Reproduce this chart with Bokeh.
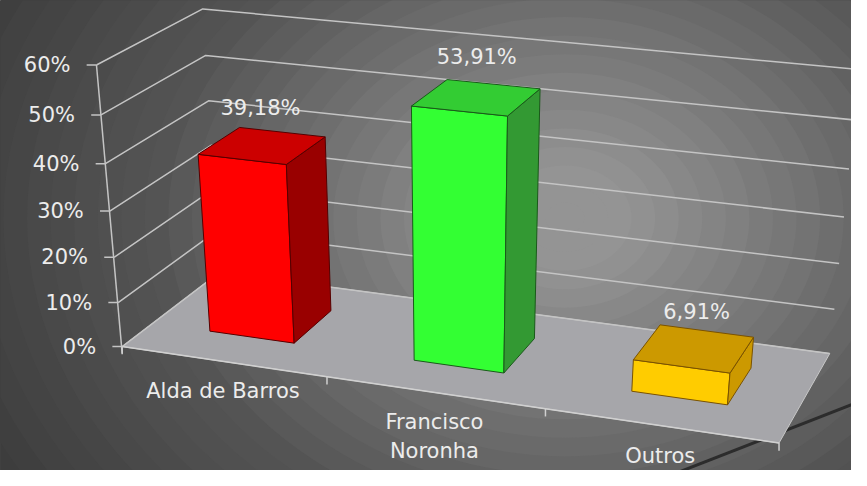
import numpy as np
from bokeh.plotting import figure
from bokeh.models import Range1d, ColumnDataSource
from bokeh.core.properties import value
from bokeh.embed import file_html
from bokeh.resources import INLINE

# ---------------- data ----------------
categories = ["Alda de Barros", "Francisco\nNoronha", "Outros"]
values = [39.18, 53.91, 6.91]
y_ticks = [0, 10, 20, 30, 40, 50, 60]
y_tick_labels = ["0%", "10%", "20%", "30%", "40%", "50%", "60%"]
Y_MAX = 60

# ---------------- styles ----------------
face_colors = ["#ff0000", "#33ff33", "#ffcc00"]
side_colors = ["#990000", "#339933", "#cc9900"]
top_colors = ["#cc0000", "#33cc33", "#cc9900"]
edge_colors = ["#550000", "#1a5a1a", "#7a5200"]
TEXT_COLOR = "#ececec"
FONT = "DejaVu Sans"
FONT_SIZE = "21px"
BAR_W = 0.42      # fraction of category width
BAR_D0, BAR_D1 = 0.30, 0.72   # depth span of the bars
LABEL_LIFT = 8.0  # value-label lift above bar top (in % units)

# ---------------- camera (3D frame -> reference-frame pixels) ----------------
# 3D frame: X = category position (0..n), D = depth (0 front .. 1 back), Z = value / Y_MAX
CAM_3D = [(0, 0, 0), (1, 0, 0), (2, 0, 0), (3, 0, 0), (3, 1, 0), (0, 1, 0),
          (0, 0, 1), (0, 0, 0.5), (0, 1, 1), (0, 1, 2 / 3), (3, 1, 1)]
CAM_2D = [(125, 355), (333, 392), (555, 425), (793, 455), (845, 365), (222, 281),
          (97, 67), (111, 217), (207, 9), (212, 104), (875, 71)]


def fit_projection(p3, p2):
    rows = []
    for (X, D, Z), (u, v) in zip(p3, p2):
        u, v = u / 100.0, v / 100.0
        rows.append([X, D, Z, 1, 0, 0, 0, 0, -u * X, -u * D, -u * Z, -u])
        rows.append([0, 0, 0, 0, X, D, Z, 1, -v * X, -v * D, -v * Z, -v])
    _, _, vt = np.linalg.svd(np.array(rows, float))
    return vt[-1].reshape(3, 4)


P = fit_projection(CAM_3D, CAM_2D)


def proj(X, D, Zval):
    X = np.atleast_1d(np.asarray(X, float))
    D = np.broadcast_to(np.asarray(D, float), X.shape)
    Z = np.broadcast_to(np.asarray(Zval, float) / Y_MAX, X.shape)
    h = P @ np.vstack([X, D, Z, np.ones_like(X)])
    return list(100 * h[0] / h[2]), list(100 * h[1] / h[2])


n = len(categories)

# ---------------- figure ----------------
REF_W, REF_H = 867, 486
W, H = 851, 470
p = figure(width=W, height=H, output_backend="svg", toolbar_location=None,
           x_range=Range1d(0, REF_W), y_range=Range1d(REF_H, 0), min_border=0)
p.axis.visible = False
p.grid.visible = False
p.outline_line_color = None
p.background_fill_color = "#3a3a3a"
p.border_fill_color = "#3a3a3a"

# radial banded background
CX, CY, AY = 575, 225, 0.8
radii = np.arange(740, 10, -24)


def shade(d):
    if d < 430:
        g = min(148, 162 - 0.18 * d)
    else:
        g = 85 - 0.1 * (d - 430)
    g = int(max(52, g))
    return "#%02x%02x%02x" % (g, g, g)


bg = ColumnDataSource(dict(x=[CX] * len(radii), y=[CY] * len(radii),
                           w=list(2 * radii), h=list(2 * radii * AY),
                           c=[shade(r) for r in radii]))
p.ellipse(x="x", y="y", width="w", height="h", fill_color="c", line_color=None, source=bg)

# decorative dark stroke, bottom right
p.line(x=[680, 900], y=[492, 405], line_color="#2c2c2c", line_width=3)

# floor
fx, fy = proj([0, n, n, 0], [0, 0, 1, 1], [0, 0, 0, 0])
p.patch(fx, fy, fill_color="#a6a6aa", line_color="#c8c8c8", line_width=1)

# gridlines on side and back walls
gxs, gys = [], []
for t in y_ticks:
    xs, ys = proj([0, 0, n], [0, 1, 1], [t, t, t])
    gxs.append(xs)
    gys.append(ys)
p.multi_line(gxs, gys, line_color="#c4c4c4", line_width=1.5)

# value axis line and ticks
ax_x, ax_y = proj([0, 0], [0, 0], [0, Y_MAX])
p.line([ax_x[0], ax_x[1]], [ax_y[0] + 7, ax_y[1]], line_color="#c4c4c4", line_width=1.5)
tx, ty = proj([0] * len(y_ticks), [0] * len(y_ticks), y_ticks)
p.segment(x0=tx, y0=ty, x1=[x - 10 for x in tx], y1=ty, line_color="#c4c4c4", line_width=1.5)
p.text(x=tx, y=ty, text=y_tick_labels, x_offset=-26, text_align="right",
       text_baseline="middle", text_color=TEXT_COLOR, text_font=value(FONT),
       text_font_size=FONT_SIZE)

# category axis (front floor edge) ticks
cx_, cy_ = proj(list(range(n + 1)), [0] * (n + 1), [0] * (n + 1))
p.segment(x0=cx_, y0=cy_, x1=cx_, y1=[y + 8 for y in cy_], line_color="#d0d0d0", line_width=1.5)
p.line(cx_, cy_, line_color="#d0d0d0", line_width=1.5)

# bars
for i, v in enumerate(values):
    x0 = i + 0.5 - BAR_W / 2
    x1 = i + 0.5 + BAR_W / 2
    faces = [
        (proj([x0, x1, x1, x0], [BAR_D0] * 4, [0, 0, v, v]), face_colors[i]),
        (proj([x1, x1, x1, x1], [BAR_D0, BAR_D1, BAR_D1, BAR_D0], [0, 0, v, v]), side_colors[i]),
        (proj([x0, x1, x1, x0], [BAR_D0, BAR_D0, BAR_D1, BAR_D1], [v, v, v, v]), top_colors[i]),
    ]
    for (xs, ys), col in faces:
        p.patch(xs, ys, fill_color=col, line_color=edge_colors[i], line_width=1)

# value labels
lx, ly = proj([i + 0.5 for i in range(n)], [(BAR_D0 + BAR_D1) / 2] * n,
              [v + LABEL_LIFT for v in values])
p.text(x=lx, y=ly, text=[("%.2f" % v).replace(".", ",") + "%" for v in values],
       text_align="center", text_baseline="middle", text_color=TEXT_COLOR,
       text_font=value(FONT), text_font_size=FONT_SIZE)

# category labels
kx, ky = proj([i + 0.5 for i in range(n)], [0] * n, [0] * n)
p.text(x=kx, y=ky, text=categories, y_offset=18, text_align="center",
       text_baseline="top", text_color=TEXT_COLOR, text_font=value(FONT),
       text_font_size=FONT_SIZE, text_line_height=1.2)

open("out.html", "w").write(file_html(p, INLINE))
